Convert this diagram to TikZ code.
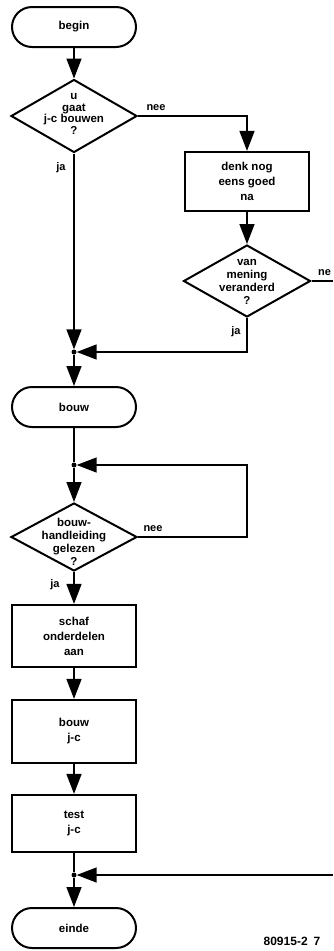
\documentclass[tikz,border=0pt]{standalone}
\usepackage{fontspec}
\setmainfont{Liberation Sans}
\usetikzlibrary{shapes.geometric,arrows.meta}
\tikzset{
  txt/.style={align=center,font=\bfseries\fontsize{11.5}{13}\selectfont,inner sep=0pt},
  smalltxt/.style={font=\bfseries\fontsize{11}{12}\selectfont,inner sep=0pt},
  term/.style={draw,line width=2pt,rounded corners=20pt,minimum width=124pt,minimum height=40pt,inner sep=0pt,
     align=center,font=\bfseries\fontsize{11.5}{13}\selectfont},
  proc/.style={draw,line width=2.2pt,minimum width=124pt,inner sep=0pt,
     align=center,font=\bfseries\fontsize{11.5}{15}\selectfont},
  dec/.style={diamond,draw,line width=2pt,inner sep=0pt,minimum width=126pt},
  jdot/.style={circle,fill,inner sep=0pt,minimum size=5pt},
  conn/.style={line width=1.5pt},
  arr/.style={conn,-{Triangle[length=20pt,width=15pt]}}
}
\begin{document}
\begin{tikzpicture}[x=1pt,y=-1pt]
\useasboundingbox (0,0) rectangle (333,951);
% nodes
\node[term] (begin) at (74,27) {begin};
\node[dec,minimum height=73pt] (d1) at (74,116) {};
\node[txt,font=\bfseries\fontsize{11.5}{11.5}\selectfont] (t1) at (74,114) {u\\gaat\\j-c bouwen\\?};
\node[proc,minimum height=59pt] (denk) at (247,181.5) {denk nog\\eens goed\\na};
\node[dec,minimum width=127pt,minimum height=72pt] (d2) at (247,281) {};
\node[txt] (t2) at (247,282) {van\\mening\\veranderd\\?};
\node[jdot] (j1) at (74,352) {};
\node[term] (bouw) at (74,407) {bouw};
\node[jdot] (j2) at (74,465) {};
\node[dec,minimum height=68pt] (d3) at (74,537) {};
\node[txt] (t3) at (74,542) {bouw-\\handleiding\\gelezen\\?};
\node[proc,minimum height=62pt] (schaf) at (74,636) {schaf\\onderdelen\\aan};
\node[proc,minimum height=63pt] (bouwjc) at (74,731.5) {bouw\\j-c};
\node[proc,minimum height=57pt] (test) at (74,823.5) {test\\j-c};
\node[jdot] (j4) at (74,875) {};
\node[term] (einde) at (74,928) {einde};
\coordinate (c1) at (247,116);
\coordinate (c3) at (247,537);
\coordinate (eR1) at (333,281);
\coordinate (eR2) at (333,875);
% labels
\node[smalltxt] (l1) at (156,108) {nee};
\node[smalltxt] (l2) at (61,168) {ja};
\node[smalltxt,anchor=west] (l3) at (318,273) {ne};
\node[smalltxt] (l4) at (236,332) {ja};
\node[smalltxt] (l5) at (153,529) {nee};
\node[smalltxt] (l6) at (55,585) {ja};
\node[smalltxt,font=\bfseries\fontsize{12}{13}\selectfont] (code) at (292,941) {80915-2\hspace{6pt}7};
% connectors
\draw[arr] (begin) -- (d1);
\draw[arr] (d1.east) -- (c1) -- (denk);
\draw[arr] (denk) -- (d2);
\draw[conn] (d2.east) -- (eR1);
\draw[arr] (d1.south) -- (j1);
\draw[arr] (d2.south) |- (j1);
\draw[arr] (j1) -- (bouw);
\draw[conn] (bouw) -- (j2);
\draw[arr] (j2) -- (d3);
\draw[arr] (d3.east) -- (c3) |- (j2);
\draw[arr] (d3.south) -- (schaf);
\draw[arr] (schaf) -- (bouwjc);
\draw[arr] (bouwjc) -- (test);
\draw[conn] (test) -- (j4);
\draw[arr] (eR2) -- (j4);
\draw[arr] (j4) -- (einde);
\end{tikzpicture}
\end{document}
